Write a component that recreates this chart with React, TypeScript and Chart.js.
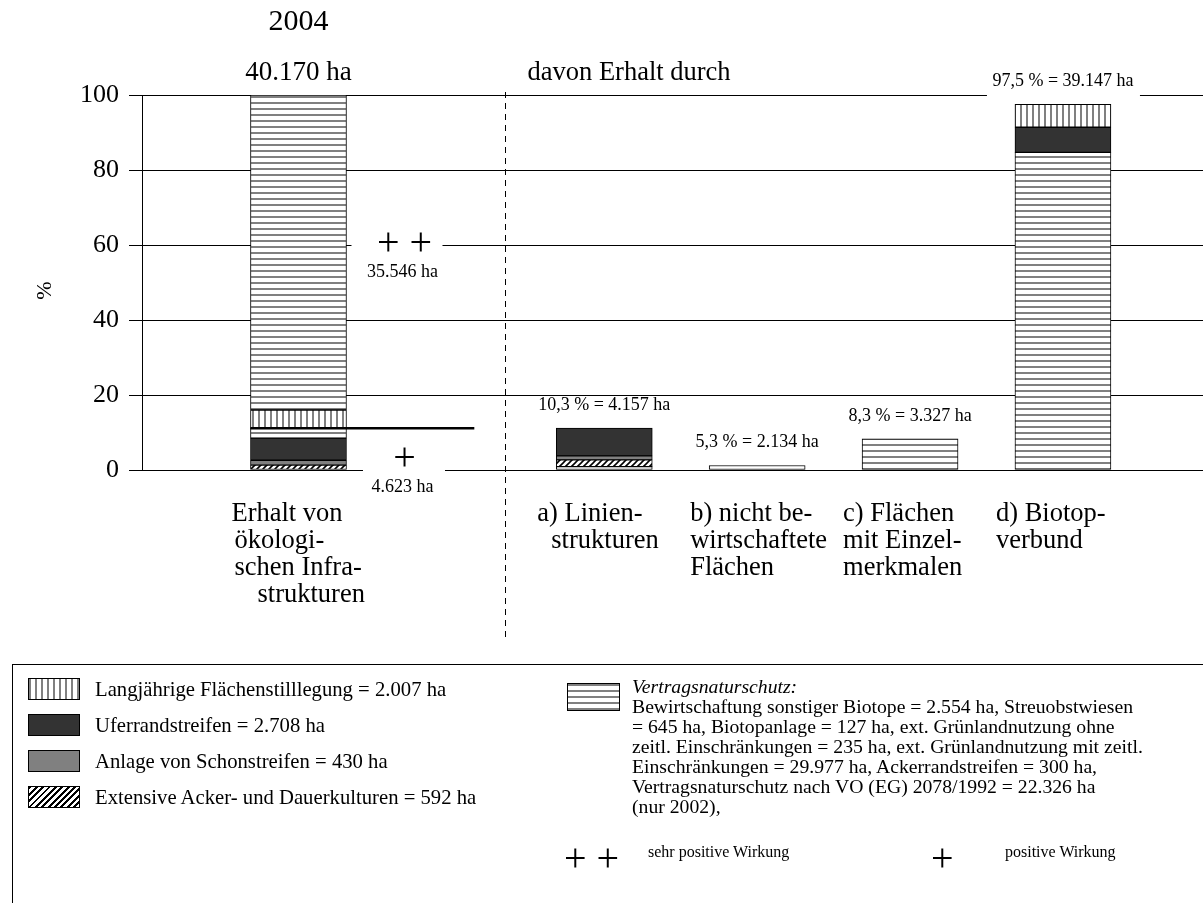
import React, { useEffect, useRef } from 'react';
import { Chart, registerables } from 'chart.js';

Chart.register(...registerables);

const SERIF = "'Liberation Serif', 'Times New Roman', serif";

// ---- data ----
const categoryLines: string[][] = [
  ['Erhalt von', 'ökologi-', 'schen Infra-', 'strukturen'],
  ['a) Linien-', 'strukturen'],
  ['b) nicht be-', 'wirtschaftete', 'Flächen'],
  ['c) Flächen', 'mit Einzel-', 'merkmalen'],
  ['d) Biotop-', 'verbund'],
];
const categoryPositions = [1, 3, 4, 5, 6];
const totalLabels = ['40.170 ha', '10,3 % = 4.157 ha', '5,3 % = 2.134 ha', '8,3 % = 3.327 ha', '97,5 % = 39.147 ha'];
const yTicks = [0, 20, 40, 60, 80, 100];

// stacked segments (% of 40.170 ha), bottom to top
const ohneMuster: (number | null)[] = [null, 0.9, 1.2, null, null];
const extensiveAcker: (number | null)[] = [1.3, 1.8, null, null, null];
const schonstreifen: (number | null)[] = [1.3, 1.05, null, null, null];
const vertragUnten: (number | null)[] = [null, null, null, 8.3, 84.7];
const uferrand: (number | null)[] = [5.9, 7.4, null, null, 6.7];
const vertragMitte: (number | null)[] = [2.6, null, null, null, null];
const stilllegung: (number | null)[] = [4.9, null, null, null, 6.1];
const vertragOben: (number | null)[] = [84.0, null, null, null, null];

const legendLeft = [
  'Langjährige Flächenstilllegung = 2.007 ha',
  'Uferrandstreifen = 2.708 ha',
  'Anlage von Schonstreifen = 430 ha',
  'Extensive Acker- und Dauerkulturen = 592 ha',
];
const legendRightTitle = 'Vertragsnaturschutz:';
const legendRightLines = [
  'Bewirtschaftung sonstiger Biotope = 2.554 ha, Streuobstwiesen',
  '= 645 ha, Biotopanlage = 127 ha, ext. Grünlandnutzung ohne',
  'zeitl. Einschränkungen = 235 ha, ext. Grünlandnutzung mit zeitl.',
  'Einschränkungen = 29.977 ha, Ackerrandstreifen = 300 ha,',
  'Vertragsnaturschutz nach VO (EG) 2078/1992 = 22.326 ha',
  '(nur 2002),',
];
const effectLabels = ['sehr positive Wirkung', 'positive Wirkung'];
const sehrPositivHa = '35.546 ha';
const positivHa = '4.623 ha';

const STRIPE = '#808080';
const DARK = '#333333';
const GRAY = '#808080';

function makePattern(kind: string): CanvasPattern | string {
  const c = document.createElement('canvas');
  c.width = 6;
  c.height = 6;
  const g = c.getContext('2d');
  if (!g) return '#fff';
  g.fillStyle = '#fff';
  g.fillRect(0, 0, 6, 6);
  if (kind === 'h') {
    g.fillStyle = STRIPE;
    g.fillRect(0, 0, 6, 2);
  } else if (kind === 'v') {
    g.fillStyle = STRIPE;
    g.fillRect(0, 0, 2, 6);
  } else if (kind === 'd') {
    g.strokeStyle = '#000';
    g.lineWidth = 1.6;
    g.beginPath();
    g.moveTo(-1, 7);
    g.lineTo(7, -1);
    g.moveTo(-1, 1);
    g.lineTo(1, -1);
    g.moveTo(5, 7);
    g.lineTo(7, 5);
    g.stroke();
  }
  const p = g.createPattern(c, 'repeat');
  return p || '#fff';
}

const swatchBase: React.CSSProperties = {
  position: 'absolute',
  border: '1px solid #000',
  boxSizing: 'border-box',
};
const vStripesCss = 'repeating-linear-gradient(90deg, #808080 0 2px, #fff 2px 6px)';
const hStripesCss = 'repeating-linear-gradient(180deg, #808080 0 2px, #fff 2px 6px)';
const hatchCss = 'repeating-linear-gradient(135deg, #000 0 2px, #fff 2px 4.5px)';

export default function App() {
  const ref = useRef<HTMLCanvasElement>(null);

  useEffect(() => {
    const canvas = ref.current;
    if (!canvas) return;
    const pH = makePattern('h');
    const pV = makePattern('v');
    const pD = makePattern('d');

    const mk = (label: string, values: (number | null)[], bg: any) => ({
      label,
      data: values
        .map((v, i) => (v == null ? null : { x: categoryPositions[i], y: v }))
        .filter((d) => d !== null),
      backgroundColor: bg,
      borderColor: '#000',
      borderWidth: 1,
      borderSkipped: false,
      barThickness: 96,
    });

    const series = [ohneMuster, extensiveAcker, schonstreifen, vertragUnten, uferrand, vertragMitte, stilllegung, vertragOben];
    const totals = categoryPositions.map((_, i) => series.reduce((s, arr) => s + (arr[i] ?? 0), 0));

    const overlay = {
      id: 'overlay',
      afterDatasetsDraw(chart: any) {
        const ctx: CanvasRenderingContext2D = chart.ctx;
        const xs = chart.scales.x;
        const ys = chart.scales.y;
        const ca = chart.chartArea;
        const px = (v: number) => xs.getPixelForValue(v);
        const py = (v: number) => ys.getPixelForValue(v);
        const x0 = px(categoryPositions[0]);
        ctx.save();
        ctx.fillStyle = '#000';
        ctx.strokeStyle = '#000';
        ctx.textBaseline = 'middle';

        // white boxes hiding grid lines behind labels
        ctx.fillStyle = '#fff';
        ctx.fillRect(x0 + 53, py(60) - 18, 91, 50);
        ctx.fillRect(x0 + 64.5, py(0) - 16, 82, 40);
        const xd = px(categoryPositions[4]);
        ctx.fillRect(xd - 76, py(totals[4]) - 40, 153, 34);

        // reference line at level of a)
        ctx.lineWidth = 2.5;
        ctx.beginPath();
        ctx.moveTo(x0 - 48, py(totals[1]));
        ctx.lineTo(px(2.15), py(totals[1]));
        ctx.stroke();

        // dashed divider
        ctx.lineWidth = 1;
        ctx.setLineDash([6, 5]);
        ctx.beginPath();
        const xDiv = Math.round(px(2.35)) + 0.5;
        ctx.moveTo(xDiv, ca.top - 3);
        ctx.lineTo(xDiv, 640);
        ctx.stroke();
        ctx.setLineDash([]);

        ctx.fillStyle = '#000';
        // titles
        ctx.textAlign = 'center';
        ctx.font = `30px ${SERIF}`;
        ctx.fillText('2004', x0, 22);
        ctx.font = `27px ${SERIF}`;
        ctx.fillText(totalLabels[0], x0, 73);
        ctx.textAlign = 'left';
        ctx.font = `26.5px ${SERIF}`;
        ctx.fillText('davon Erhalt durch', xDiv + 22, 73);

        // bar total labels
        ctx.textAlign = 'center';
        ctx.font = `18px ${SERIF}`;
        for (let i = 1; i < categoryPositions.length; i++) {
          ctx.fillText(totalLabels[i], px(categoryPositions[i]), py(totals[i]) - 23);
        }

        // effect markers
        ctx.font = `40px ${SERIF}`;
        ctx.fillText('+ +', x0 + 106, py(60) - 1);
        ctx.fillText('+', x0 + 106, py(0) - 11);
        ctx.font = `18px ${SERIF}`;
        ctx.fillText(sehrPositivHa, x0 + 104, py(60) + 27);
        ctx.fillText(positivHa, x0 + 104, py(0) + 17);

        // category labels
        ctx.textAlign = 'left';
        ctx.font = `26.5px ${SERIF}`;
        const indents: number[][] = [[0, 3, 3, 26], [0, 14], [0, 0, 0], [0, 0, 0], [0, 0]];
        categoryLines.forEach((lines, i) => {
          const cx = px(categoryPositions[i]);
          lines.forEach((ln, j) => {
            ctx.fillText(ln, cx - 67 + (indents[i][j] || 0), ca.bottom + 44 + j * 27);
          });
        });

        // y axis title
        ctx.save();
        ctx.translate(45, (ca.top + ca.bottom) / 2 + 8);
        ctx.rotate(-Math.PI / 2);
        ctx.textAlign = 'center';
        ctx.font = `22px ${SERIF}`;
        ctx.fillText('%', 0, 0);
        ctx.restore();

        ctx.restore();
      },
    };

    const chart = new Chart(canvas, {
      type: 'bar',
      data: {
        datasets: [
          mk('ohne', ohneMuster, '#ffffff'),
          mk('Extensive Acker- und Dauerkulturen', extensiveAcker, pD),
          mk('Anlage von Schonstreifen', schonstreifen, GRAY),
          mk('Vertragsnaturschutz', vertragUnten, pH),
          mk('Uferrandstreifen', uferrand, DARK),
          mk('Vertragsnaturschutz', vertragMitte, pH),
          mk('Langjährige Flächenstilllegung', stilllegung, pV),
          mk('Vertragsnaturschutz', vertragOben, pH),
        ] as any,
      },
      options: {
        responsive: false,
        animation: false,
        events: [],
        layout: { padding: { top: 95, bottom: 433, left: 0, right: 0 } },
        plugins: { legend: { display: false }, tooltip: { enabled: false } },
        scales: {
          x: {
            type: 'linear',
            stacked: true,
            offset: false,
            min: -0.0235,
            max: 6.916,
            display: false,
          },
          y: {
            stacked: true,
            min: 0,
            max: 100,
            afterBuildTicks: (scale: any) => {
              scale.ticks = yTicks.map((v) => ({ value: v }));
            },
            afterFit: (scale: any) => {
              scale.width = 142;
            },
            ticks: {
              color: '#000',
              font: { family: SERIF, size: 26 },
              padding: 10,
            },
            grid: {
              color: '#000',
              lineWidth: 1,
              tickLength: 13,
              tickColor: '#000',
              drawTicks: true,
            },
            border: { color: '#000', width: 1 },
          },
        },
      } as any,
      plugins: [overlay],
    });
    return () => chart.destroy();
  }, []);

  const leftTops = [678, 714, 750, 786];
  const leftBgs = [vStripesCss, '#333333', '#808080', hatchCss];

  return (
    <div
      style={{
        position: 'fixed',
        left: 0,
        top: 0,
        width: 1203,
        height: 903,
        overflow: 'hidden',
        background: '#fff',
        fontFamily: SERIF,
        color: '#000',
      }}
    >
      <canvas ref={ref} width={1203} height={903} style={{ position: 'absolute', left: 0, top: 0 }} />
      <div
        style={{
          position: 'absolute',
          left: 12,
          top: 664,
          width: 1300,
          height: 400,
          border: '1.5px solid #000',
          boxSizing: 'border-box',
        }}
      />
      {legendLeft.map((t, i) => (
        <React.Fragment key={t}>
          <div style={{ ...swatchBase, left: 28, top: leftTops[i], width: 52, height: 22, background: leftBgs[i] }} />
          <div
            style={{
              position: 'absolute',
              left: 95,
              top: leftTops[i] + 11 - 12,
              fontSize: 20.7,
              lineHeight: '24px',
              whiteSpace: 'nowrap',
            }}
          >
            {t}
          </div>
        </React.Fragment>
      ))}
      <div style={{ ...swatchBase, left: 567, top: 683, width: 53, height: 28, background: hStripesCss }} />
      <div
        style={{
          position: 'absolute',
          left: 632,
          top: 676,
          fontSize: 19.7,
          lineHeight: '20px',
          whiteSpace: 'nowrap',
        }}
      >
        <div style={{ fontStyle: 'italic' }}>{legendRightTitle}</div>
        {legendRightLines.map((l) => (
          <div key={l}>{l}</div>
        ))}
      </div>
      <div style={{ position: 'absolute', left: 564, top: 836, fontSize: 40, lineHeight: '44px', whiteSpace: 'pre' }}>
        {'+ +'}
      </div>
      <div style={{ position: 'absolute', left: 648, top: 842, fontSize: 16, lineHeight: '20px', whiteSpace: 'nowrap' }}>
        {effectLabels[0]}
      </div>
      <div style={{ position: 'absolute', left: 931, top: 836, fontSize: 40, lineHeight: '44px' }}>+</div>
      <div style={{ position: 'absolute', left: 1005, top: 842, fontSize: 16, lineHeight: '20px', whiteSpace: 'nowrap' }}>
        {effectLabels[1]}
      </div>
    </div>
  );
}
